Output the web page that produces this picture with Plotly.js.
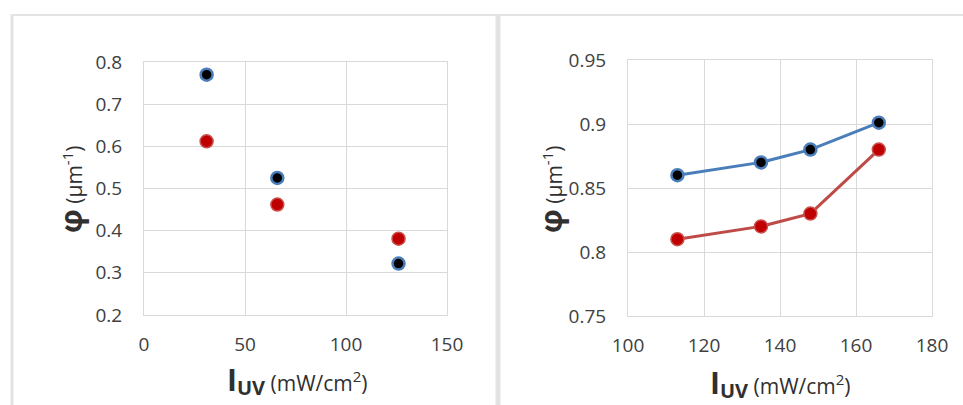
<!DOCTYPE html>
<html>
<head>
<meta charset="utf-8">
<script src="https://cdn.plot.ly/plotly-3.0.1.min.js"></script>
<style>
html,body{margin:0;padding:0;background:#fff;}
#chart{width:963px;height:405px;}
</style>
</head>
<body>
<div id="chart"></div>
<script>
// Left panel data
const leftX = [31, 66, 126];
const leftBlue = [0.770, 0.525, 0.322];
const leftRed = [0.612, 0.462, 0.381];
// Right panel data
const rightX = [113, 135, 148, 166];
const rightBlue = [0.860, 0.870, 0.880, 0.901];
const rightRed = [0.810, 0.820, 0.830, 0.880];
// Tick labels
const leftXTicks = [0, 50, 100, 150];
const leftYTicks = [0.2, 0.3, 0.4, 0.5, 0.6, 0.7, 0.8];
const rightXTicks = [100, 120, 140, 160, 180];
const rightYTicks = [0.75, 0.8, 0.85, 0.9, 0.95];
const rightYTickText = ['0.75', '0.8', '0.85', '0.9', '0.95'];

const W = 963, H = 405;
const blueLine = '#4a7ebb', redLine = '#be4b48';
const gridC = '#d9d9d9';
const tickFont = {family: 'Open Sans, Liberation Sans, sans-serif', size: 19, color: '#404040'};

const blueMarker = {size: 12, color: '#000000', line: {color: blueLine, width: 2.5}};
const redMarker = {size: 13, color: '#c00000', line: {color: '#c9504d', width: 1.5}};

const traces = [
  {x: leftX, y: leftBlue, mode: 'markers', type: 'scatter', marker: blueMarker, xaxis: 'x', yaxis: 'y', hoverinfo: 'none'},
  {x: leftX, y: leftRed, mode: 'markers', type: 'scatter', marker: redMarker, xaxis: 'x', yaxis: 'y', hoverinfo: 'none'},
  {x: rightX, y: rightBlue, mode: 'lines+markers', type: 'scatter', line: {color: blueLine, width: 3}, marker: blueMarker, xaxis: 'x2', yaxis: 'y2', hoverinfo: 'none'},
  {x: rightX, y: rightRed, mode: 'lines+markers', type: 'scatter', line: {color: redLine, width: 3}, marker: redMarker, xaxis: 'x2', yaxis: 'y2', hoverinfo: 'none'}
];

function ax(extra) {
  return Object.assign({
    showgrid: true, gridcolor: gridC, gridwidth: 1,
    showline: true, linecolor: gridC, linewidth: 1, mirror: true,
    zeroline: false, ticks: '', tickfont: tickFont, fixedrange: true
  }, extra);
}

const yTitle = '<span style="font-size:30px"><b>φ</b></span> (μm<sup><span style="font-size:15px">-1</span></sup>)';
const xTitle = '<b><span style="font-size:30px">I</span><sub><span style="font-size:20px">UV</span></sub></b> (mW/cm<sup><span style="font-size:15px">2</span></sup>)';
const titleFont = {family: 'Open Sans, Liberation Sans, sans-serif', size: 21, color: '#303030'};

const layout = {
  width: W, height: H,
  margin: {l: 0, r: 0, t: 0, b: 0},
  paper_bgcolor: '#ffffff', plot_bgcolor: '#ffffff',
  showlegend: false,
  xaxis: ax({domain: [144/W, 447/W], range: [0, 150], tickvals: leftXTicks, anchor: 'y', ticklabelstandoff: 12}),
  yaxis: ax({domain: [1-315/H, 1-62/H], range: [0.2, 0.8], tickvals: leftYTicks, tickformat: '.1f', anchor: 'x', ticklabelstandoff: 17}),
  xaxis2: ax({domain: [628/W, 932/W], range: [100, 180], tickvals: rightXTicks, anchor: 'y2', ticklabelstandoff: 12}),
  yaxis2: ax({domain: [1-316/H, 1-60/H], range: [0.75, 0.95], tickvals: rightYTicks, ticktext: rightYTickText, anchor: 'x2', ticklabelstandoff: 17}),
  annotations: [
    {text: yTitle, xref: 'paper', yref: 'paper', x: 70/W, y: 1-190/H, textangle: -90, showarrow: false, font: titleFont, xanchor: 'center', yanchor: 'middle'},
    {text: xTitle, xref: 'paper', yref: 'paper', x: 297/W, y: 1-380/H, showarrow: false, font: titleFont, xanchor: 'center', yanchor: 'middle'},
    {text: yTitle, xref: 'paper', yref: 'paper', x: 550/W, y: 1-190/H, textangle: -90, showarrow: false, font: titleFont, xanchor: 'center', yanchor: 'middle'},
    {text: xTitle, xref: 'paper', yref: 'paper', x: 780/W, y: 1-383/H, showarrow: false, font: titleFont, xanchor: 'center', yanchor: 'middle'}
  ],
  shapes: [
    {type: 'line', xref: 'paper', yref: 'paper', x0: 11/W, x1: 1, y0: 1-15/H, y1: 1-15/H, line: {color: '#e3e3e3', width: 2}},
    {type: 'line', xref: 'paper', yref: 'paper', x0: 12/W, x1: 12/W, y0: 0, y1: 1-14/H, line: {color: '#e3e3e3', width: 3}},
    {type: 'line', xref: 'paper', yref: 'paper', x0: 498/W, x1: 498/W, y0: 0, y1: 1-14/H, line: {color: '#e3e3e3', width: 5}}
  ]
};

Plotly.newPlot('chart', traces, layout, {staticPlot: true, displayModeBar: false});
</script>
</body>
</html>
